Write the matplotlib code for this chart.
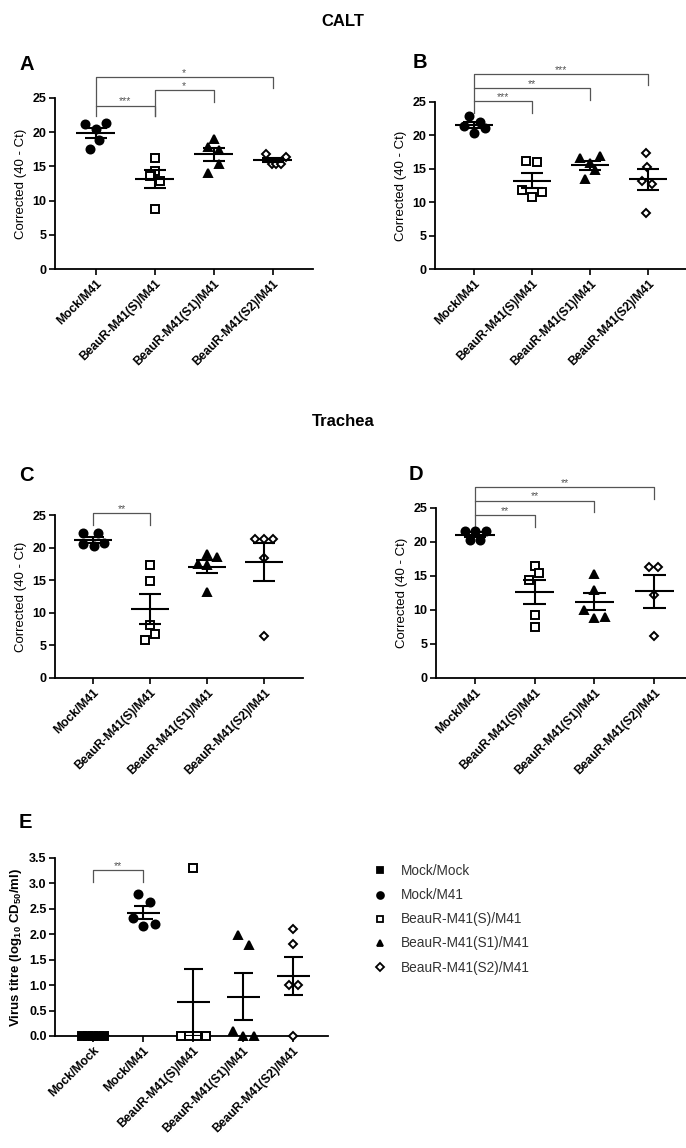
import numpy as np
import matplotlib
matplotlib.use("Agg")
import matplotlib.pyplot as plt
from matplotlib.lines import Line2D

plt.rcParams['font.family'] = ['Liberation Sans', 'DejaVu Sans']
plt.rcParams['mathtext.fontset'] = 'custom'
plt.rcParams['mathtext.rm'] = 'Liberation Sans:bold'
plt.rcParams['mathtext.default'] = 'rm'

# ---- data ----
groups4 = ["Mock/M41", "BeauR-M41(S)/M41", "BeauR-M41(S1)/M41", "BeauR-M41(S2)/M41"]
groups5 = ["Mock/Mock"] + groups4

calt_a = [[21.2, 21.4, 20.4, 18.9, 17.5],
          [16.3, 14.4, 13.6, 12.8, 8.7],
          [19.0, 17.9, 17.4, 14.1, 15.3],
          [16.8, 15.4, 15.4, 15.4, 16.4]]
calt_b = [[22.9, 21.4, 22.0, 21.1, 20.3],
          [16.1, 16.0, 11.8, 11.5, 10.8],
          [16.6, 16.9, 15.9, 14.8, 13.4],
          [17.4, 15.3, 13.2, 12.7, 8.4]]
trachea_c = [[22.2, 22.3, 20.6, 20.2, 20.7],
             [17.3, 14.9, 8.2, 6.7, 5.8],
             [19.0, 18.5, 17.5, 17.3, 13.2],
             [21.3, 21.3, 21.3, 18.4, 6.5]]
trachea_d = [[21.6, 21.6, 21.6, 20.3, 20.3],
             [16.4, 15.5, 14.4, 9.2, 7.5],
             [15.3, 12.9, 10.0, 8.8, 9.0],
             [16.3, 16.3, 12.2, 6.2]]
titre_e = [[0, 0, 0, 0, 0],
           [2.79, 2.64, 2.33, 2.20, 2.17],
           [3.30, 0, 0, 0, 0],
           [1.99, 1.79, 0.10, 0, 0],
           [2.10, 1.80, 1.00, 1.00, 0]]

# significance brackets: (group i, group j, bar y, left leg end, right leg end, stars)
sig_a = [(0, 1, 23.9, 22.3, 22.3, '***'), (1, 2, 26.2, 22.3, 24.4, '*'), (0, 3, 28.1, 23.9, 26.5, '*')]
sig_b = [(0, 1, 25.1, 23.4, 23.4, '***'), (0, 2, 27.1, 25.1, 25.3, '**'), (0, 3, 29.2, 27.1, 27.5, '***')]
sig_c = [(0, 1, 25.3, 23.5, 23.5, '**')]
sig_d = [(0, 1, 23.9, 22.2, 22.2, '**'), (0, 2, 26.1, 23.9, 24.4, '**'), (0, 3, 28.1, 26.1, 26.3, '**')]
sig_e = [(0, 1, 3.26, 3.03, 3.03, '**')]

# ---- layout: horizontal scatter of points within each group ----
jit_a = [[-0.18, 0.18, 0, 0.06, -0.1], [0, 0, -0.085, 0.085, 0], [0, -0.1, 0.085, -0.1, 0.085],
         [-0.12, -0.02, 0.06, 0.14, 0.23]]
jit_b = [[-0.08, -0.17, 0.1, 0.19, 0], [-0.1, 0.08, -0.17, 0.17, 0], [-0.18, 0.17, 0, 0.09, -0.08],
         [-0.03, -0.02, -0.11, 0.07, -0.03]]
jit_c = [[-0.18, 0.09, -0.18, 0.02, 0.19], [0, 0, 0, 0.08, -0.1], [0, 0.18, -0.17, 0, 0],
         [-0.16, 0, 0.16, 0, 0]]
jit_d = [[-0.16, 0, 0.18, -0.08, 0.09], [0, 0.08, -0.09, 0, 0], [0, 0, -0.18, 0, 0.17],
         [-0.09, 0.07, 0, 0]]
jit_e = [[-0.22, -0.11, 0, 0.11, 0.22], [-0.11, 0.13, -0.2, 0.23, 0], [0, -0.25, -0.08, 0.08, 0.25],
         [-0.11, 0.11, -0.21, 0, 0.22], [0, 0, -0.08, 0.1, 0]]

styles = {
    "Mock/Mock": dict(marker='s', mfc='black', ms=5.5),
    "Mock/M41": dict(marker='o', mfc='black', ms=5.8),
    "BeauR-M41(S)/M41": dict(marker='s', mfc='white', ms=5.6),
    "BeauR-M41(S1)/M41": dict(marker='^', mfc='black', ms=5.8),
    "BeauR-M41(S2)/M41": dict(marker='D', mfc='white', ms=4.3),
}

W, H = 686, 1148
fig = plt.figure(figsize=(W / 100, H / 100), dpi=100)


def box(l, r, t, b):
    return [l / W, 1 - b / H, (r - l) / W, (b - t) / H]


def panel(rect, data, jit, names, ylim, yticks, xlim, sig, ylabel, yfmt, dotted=False):
    ax = fig.add_axes(rect)
    for i, (vals, name) in enumerate(zip(data, names)):
        st = styles[name]
        xs = i + np.array(jit[i])
        ax.plot(xs, vals, ls='none', marker=st['marker'], mfc=st['mfc'], mec='black',
                mew=1.4, ms=st['ms'], clip_on=False, zorder=3)
        v = np.array(vals, float)
        m = v.mean()
        s = v.std(ddof=1) / np.sqrt(len(v))
        ax.hlines(m, i - 0.33, i + 0.33, color='black', lw=1.5, zorder=4)
        ax.vlines(i, m - s, m + s, color='black', lw=1.5, zorder=4)
        ax.hlines([m - s, m + s], i - 0.19, i + 0.19, color='black', lw=1.5, zorder=4)
    for i, j, yb, yl, yr, lab in sig:
        ax.plot([i, i, j, j], [yl, yb, yb, yr], color='#555555', lw=0.9, clip_on=False)
        ax.text((i + j) / 2, yb - (ylim[1] - ylim[0]) * 0.005, lab, ha='center', va='bottom',
                fontsize=7.5, color='#555555')
    ax.set_xlim(*xlim)
    ax.set_ylim(*ylim)
    ax.set_yticks(yticks)
    ax.set_yticklabels([yfmt.format(t) for t in yticks], fontweight='bold', fontsize=9)
    ax.set_xticks(range(len(names)))
    ax.set_xticklabels(names, rotation=45, ha='right', rotation_mode='anchor',
                       fontweight='bold', fontsize=8.7)
    for sp in ('top', 'right'):
        ax.spines[sp].set_visible(False)
    for sp in ('left', 'bottom'):
        ax.spines[sp].set_linewidth(1.3)
    if dotted:
        ax.spines['bottom'].set_linestyle((0, (2, 1)))
    ax.tick_params(direction='out', length=4, width=1.2, pad=2)
    ax.set_ylabel(ylabel, fontsize=9.5, labelpad=4)
    return ax


yt = [0, 5, 10, 15, 20, 25]
panel(box(55, 313, 98, 269), calt_a, jit_a, groups4, (0, 25), yt, (-0.69, 3.68), sig_a,
      "Corrected (40 - Ct)", "{:d}")
panel(box(435, 686, 102, 269), calt_b, jit_b, groups4, (0, 25), yt, (-0.67, 3.65), sig_b,
      "Corrected (40 - Ct)", "{:d}")
panel(box(55, 303, 515, 678), trachea_c, jit_c, groups4, (0, 25), yt, (-0.67, 3.68), sig_c,
      "Corrected (40 - Ct)", "{:d}")
panel(box(436, 686, 508, 678), trachea_d, jit_d, groups4, (0, 25), yt, (-0.65, 3.53), sig_d,
      "Corrected (40 - Ct)", "{:d}")
axe = panel(box(55, 328, 858, 1036), titre_e, jit_e, groups5, (0, 3.5),
            [0, 0.5, 1.0, 1.5, 2.0, 2.5, 3.0, 3.5], (-0.76, 4.7), sig_e,
            "Virus titre (log$_{10}$ CD$_{50}$/ml)", "{:.1f}", dotted=True)
axe.yaxis.label.set_fontweight('bold')

# titles and panel letters
fig.text(343 / W, 1 - 22 / H, "CALT", ha='center', va='center', fontsize=12, fontweight='bold')
fig.text(343 / W, 1 - 421 / H, "Trachea", ha='center', va='center', fontsize=12, fontweight='bold')
for lab, x, y in [("A", 19, 65), ("B", 413, 63), ("C", 19, 476), ("D", 409, 475), ("E", 19, 822)]:
    fig.text(x / W, 1 - y / H, lab, ha='left', va='center', fontsize=14.5, fontweight='bold')

# legend
handles = []
for name in groups5:
    st = styles[name]
    handles.append(Line2D([], [], ls='none', marker=st['marker'], mfc=st['mfc'], mec='black',
                          mew=1.3, ms=st['ms'] * 0.85))
fig.legend(handles, groups5, loc='upper left', bbox_to_anchor=(361 / W, 1 - 852 / H),
           frameon=False, fontsize=9.8, labelspacing=0.74, handlelength=1.0,
           handletextpad=1.0, labelcolor='#333333')

fig.savefig("out.png", dpi=100)
